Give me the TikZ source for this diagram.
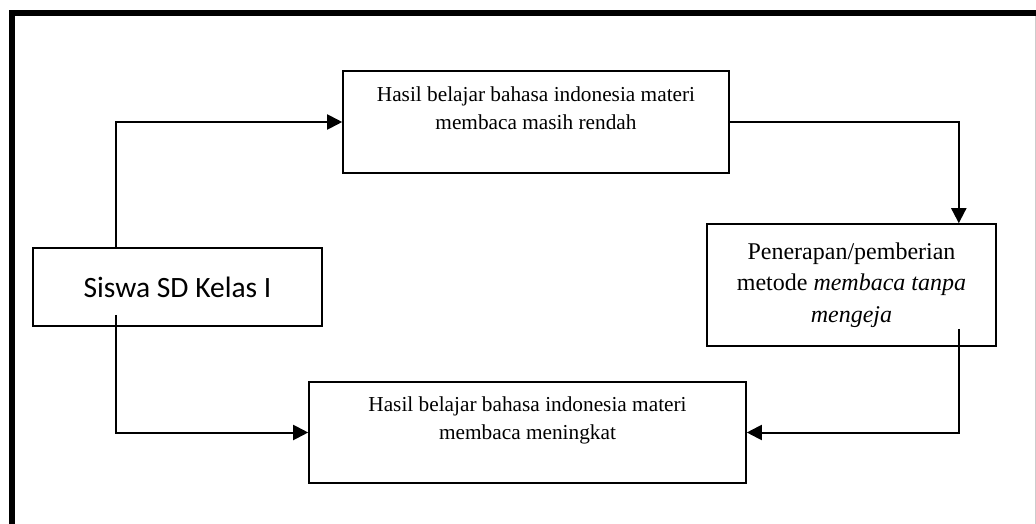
\documentclass[tikz,border=0pt]{standalone}
\usepackage{fontspec}
\setmainfont{Liberation Serif}
\newfontfamily\calibrifont{Carlito}
\usetikzlibrary{arrows.meta}

\begin{document}
\begin{tikzpicture}[
    x=1pt, y=-1pt,
    box/.style={draw, line width=1.6pt, align=center, font=\fontsize{21.3}{28}\selectfont},
    arr/.style={-{Triangle[length=15pt, width=15pt]}, line width=2pt}
]
\useasboundingbox (0,0) rectangle (1036,524);
% frame
\draw[line width=6pt] (12,524) -- (12,13) -- (1036,13);
\draw[black!20, line width=1pt] (1035,16) -- (1035,524);

\node[box, minimum width=289pt, minimum height=78pt, font=\calibrifont\fontsize{29.5}{34}\selectfont] (siswa) at (177.5,287) {Siswa SD Kelas I};
\node[box, minimum width=386pt, minimum height=102pt] (hasilA) at (536,122) {Hasil belajar bahasa indonesia materi\\membaca masih rendah\\\mbox{}};
\node[box, minimum width=289pt, minimum height=122pt, font=\fontsize{24}{31.5}\selectfont] (terap) at (851.5,285) {Penerapan/pemberian\\metode \textit{membaca tanpa}\\\textit{mengeja}};
\node[box, minimum width=437pt, minimum height=101pt] (hasilB) at (527.5,432.5) {Hasil belajar bahasa indonesia materi\\membaca meningkat\\\mbox{}};

\draw[arr] ([xshift=84pt]siswa.north west) |- (hasilA.west);
\draw[arr] (hasilA.east) -| ([xshift=-38pt]terap.north east);
\draw[arr] ([xshift=-38pt,yshift=18pt]terap.south east) |- (hasilB.east);
\draw[arr] ([xshift=84pt,yshift=12pt]siswa.south west) |- (hasilB.west);
\end{tikzpicture}
\end{document}
